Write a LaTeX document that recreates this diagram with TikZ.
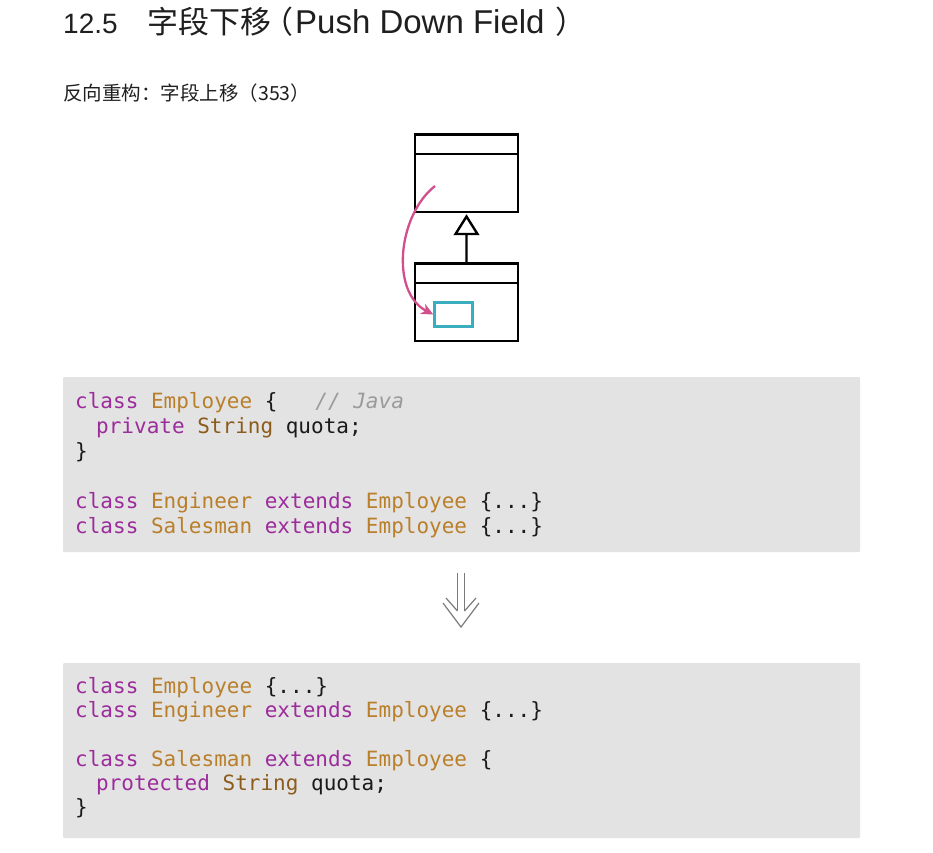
\documentclass[tikz,border=0pt]{standalone}
\usepackage{fontspec}
\setmainfont{Noto Sans CJK SC}
\setmonofont{DejaVu Sans Mono}
\newfontfamily\latinf{Liberation Sans}
\usetikzlibrary{arrows.meta}
\definecolor{kw}{HTML}{9C2B9B}
\definecolor{ty}{HTML}{B97F2A}
\definecolor{st}{HTML}{8C5C1C}
\definecolor{cm}{HTML}{9A9A9A}
\definecolor{tx}{HTML}{1A1A1A}
\definecolor{codebg}{HTML}{E3E3E3}
\definecolor{pink}{HTML}{D1508C}
\definecolor{cyanf}{HTML}{3AADBF}
\definecolor{grayarrow}{HTML}{7A7A7A}
\newcommand{\K}[1]{\textcolor{kw}{#1}}
\newcommand{\T}[1]{\textcolor{ty}{#1}}
\newcommand{\Sg}[1]{\textcolor{st}{#1}}
\newcommand{\Cm}[1]{\textcolor{cm}{\itshape #1}}
\tikzset{
  codeline/.style={anchor=base west, inner sep=0pt, font=\fontsize{21}{24}\selectfont\ttfamily, text=tx},
  codebox/.style={fill=codebg, draw=none, rounded corners=1pt},
  umlbox/.style={draw=black, line width=2.8pt},
  titletext/.style={anchor=base west, inner sep=0pt, font=\fontsize{31}{32}\selectfont, text=black!88},
  subtext/.style={anchor=base west, inner sep=0pt, font=\fontsize{19.5}{22}\selectfont, text=black!88},
}
\begin{document}
\begin{tikzpicture}[x=1pt,y=-1pt]
\useasboundingbox (0,0) rectangle (933,852);
% title
\node[titletext] (num) at (63,33) {{\latinf\fontsize{28}{30}\selectfont 12.5}};
\node[titletext] (title) at (147,33) {字段下移\kern-9pt（\kern2pt{\latinf\fontsize{33}{32}\selectfont Push Down Field}\kern11pt）};
\node[subtext] (sub) at (63,100) {反向重构：字段上移（353）};
% UML
\draw[umlbox] (415,134.5) rectangle (518,212);
\draw[umlbox] (415,154) -- (518,154);
\draw[umlbox] (415,263.5) rectangle (518,341);
\draw[umlbox] (415,283) -- (518,283);
\coordinate (super) at (466.5,216.5);
\coordinate (subc) at (466.5,264);
\draw[line width=2.4pt, line join=miter] (subc) -- (466.5,234)
  -- (455.5,234) -- (super) -- (477.5,234) -- (466.5,234);
\node[draw=cyanf, line width=2.4pt, minimum width=38pt, minimum height=24pt, inner sep=0pt] (field) at (453.5,314.5) {};
\coordinate (src) at (435,186);
\draw[pink, line width=2.3pt, -{Stealth[length=12pt, width=11pt, inset=3.5pt]}]
  (src) .. controls (398,215) and (390,292) .. (field.west);
% code block 1
\fill[codebox] (63,377) rectangle (860,552);
\node[codeline] (a1) at (75,408) {\K{class} \T{Employee} \{~~~\Cm{// Java}};
\node[codeline] (a2) at (96,433) {\K{private} \Sg{String} quota;};
\node[codeline] (a3) at (75,458) {\}};
\node[codeline] (a5) at (75,508) {\K{class} \T{Engineer} \K{extends} \T{Employee} \{...\}};
\node[codeline] (a6) at (75,533) {\K{class} \T{Salesman} \K{extends} \T{Employee} \{...\}};
% double arrow
\begin{scope}[grayarrow, line width=1.2pt]
\draw (457.5,573) -- (457.5,611);
\draw (464.5,573) -- (464.5,611);
\draw (446,598) -- (457.5,611);
\draw (476,598) -- (464.5,611);
\draw (443,603) -- (461,627) -- (479,603);
\end{scope}
% code block 2
\fill[codebox] (63,663) rectangle (860,838);
\node[codeline] (b1) at (75,693) {\K{class} \T{Employee} \{...\}};
\node[codeline] (b2) at (75,717.5) {\K{class} \T{Engineer} \K{extends} \T{Employee} \{...\}};
\node[codeline] (b4) at (75,766) {\K{class} \T{Salesman} \K{extends} \T{Employee} \{};
\node[codeline] (b5) at (96,790) {\K{protected} \Sg{String} quota;};
\node[codeline] (b6) at (75,814.5) {\}};
\end{tikzpicture}
\end{document}
